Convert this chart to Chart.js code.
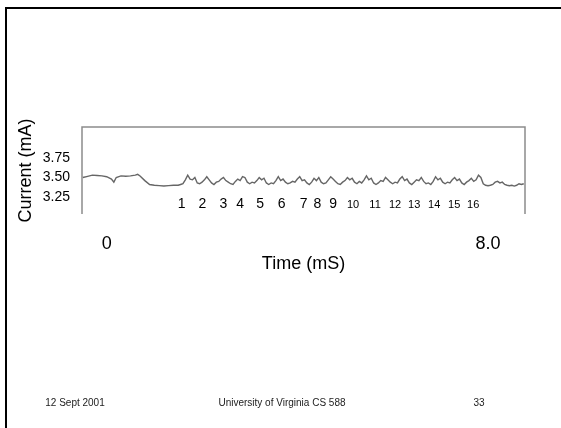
<!DOCTYPE html>
<html>
<head>
<meta charset="utf-8">
<script src="https://cdn.jsdelivr.net/npm/chart.js@4"></script>
<style>
body { margin: 0; background: #fff; }
#slide { position: relative; width: 561px; height: 428px; overflow: hidden; font-family: "Liberation Sans", Arial, sans-serif; }
#frame { position: absolute; left: 5px; top: 7px; width: 600px; height: 450px; border-top: 2.5px solid #000; border-left: 2.5px solid #000; }
#chart { position: absolute; left: 0; top: 0; }
.foot { position: absolute; top: 397px; font-size: 10px; line-height: 12px; color: #222; white-space: nowrap; transform: translateX(-50%); }
</style>
</head>
<body>
<div id="slide">
  <div id="frame"></div>
  <canvas id="chart" width="561" height="428"></canvas>
  <div class="foot" style="left:75px">12 Sept 2001</div>
  <div class="foot" style="left:282px">University of Virginia CS 588</div>
  <div class="foot" style="left:479px">33</div>
</div>
<script>
// scope trace (time in mS, current in mA)
const timeMs = [-0.5, -0.4, -0.3, -0.2, -0.1, 0.0, 0.1, 0.15, 0.2, 0.3,
    0.4, 0.5, 0.6, 0.65, 0.7, 0.8, 0.9, 1.0, 1.1, 1.2,
    1.3, 1.4,
    1.50, 1.55, 1.60, 1.65, 1.70, 1.75, 1.80, 1.85, 1.90, 1.95,
    2.00, 2.05, 2.10, 2.15, 2.20, 2.25, 2.30, 2.35, 2.40, 2.45,
    2.50, 2.55, 2.60, 2.65, 2.70, 2.75, 2.80, 2.85, 2.90, 2.95,
    3.00, 3.05, 3.10, 3.15, 3.20, 3.25, 3.30, 3.35, 3.40, 3.45,
    3.50, 3.55, 3.60, 3.65, 3.70, 3.75, 3.80, 3.85, 3.90, 3.95,
    4.00, 4.05, 4.10, 4.15, 4.20, 4.25, 4.30, 4.35, 4.40, 4.45,
    4.50, 4.55, 4.60, 4.65, 4.70, 4.75, 4.80, 4.85, 4.90, 4.95,
    5.00, 5.05, 5.10, 5.15, 5.20, 5.25, 5.30, 5.35, 5.40, 5.45,
    5.50, 5.55, 5.60, 5.65, 5.70, 5.75, 5.80, 5.85, 5.90, 5.95,
    6.00, 6.05, 6.10, 6.15, 6.20, 6.25, 6.30, 6.35, 6.40, 6.45,
    6.50, 6.55, 6.60, 6.65, 6.70, 6.75, 6.80, 6.85, 6.90, 6.95,
    7.00, 7.05, 7.10, 7.15, 7.20, 7.25, 7.30, 7.35, 7.40, 7.45,
    7.50, 7.55, 7.60, 7.65, 7.70, 7.75, 7.80, 7.85, 7.90, 7.95,
    8.00, 8.05, 8.10, 8.15, 8.20, 8.25, 8.30, 8.35, 8.40, 8.45,
    8.50, 8.55, 8.60, 8.65, 8.70, 8.75];
const currentMa = [3.50, 3.515, 3.53, 3.525, 3.52, 3.51, 3.48, 3.44, 3.50, 3.52,
    3.515, 3.52, 3.53, 3.54, 3.52, 3.46, 3.41, 3.40, 3.395, 3.39,
    3.395, 3.40,
    3.40, 3.41, 3.42, 3.47, 3.53, 3.48, 3.47, 3.50, 3.43, 3.42,
    3.44, 3.47, 3.51, 3.47, 3.43, 3.41, 3.44, 3.45, 3.48, 3.50,
    3.46, 3.44, 3.42, 3.41, 3.45, 3.48, 3.46, 3.51, 3.50, 3.44,
    3.42, 3.44, 3.43, 3.46, 3.50, 3.47, 3.49, 3.43, 3.41, 3.43,
    3.42, 3.46, 3.51, 3.46, 3.48, 3.44, 3.42, 3.43, 3.45, 3.44,
    3.48, 3.51, 3.46, 3.47, 3.43, 3.41, 3.44, 3.49, 3.46, 3.50,
    3.44, 3.42, 3.43, 3.47, 3.51, 3.48, 3.45, 3.42, 3.41, 3.44,
    3.46, 3.50, 3.47, 3.49, 3.44, 3.42, 3.45, 3.43, 3.47, 3.52,
    3.47, 3.49, 3.43, 3.41, 3.43, 3.46, 3.45, 3.50, 3.47, 3.44,
    3.42, 3.44, 3.43, 3.48, 3.51, 3.46, 3.48, 3.43, 3.41, 3.44,
    3.47, 3.46, 3.50, 3.45, 3.42, 3.43, 3.41, 3.45, 3.51, 3.47,
    3.49, 3.44, 3.42, 3.44, 3.43, 3.47, 3.50, 3.46, 3.48, 3.43,
    3.41, 3.44, 3.46, 3.49, 3.45, 3.47, 3.53, 3.50, 3.42, 3.40,
    3.395, 3.40, 3.41, 3.44, 3.45, 3.43, 3.44, 3.41, 3.40, 3.395,
    3.40, 3.39, 3.40, 3.42, 3.41, 3.42];

const yTicks = [3.25, 3.50, 3.75];
const xTicks = [0, 8];

// cycle numbers written under the trace
const cycleNumbers = [1, 2, 3, 4, 5, 6, 7, 8, 9, 10, 11, 12, 13, 14, 15, 16];
const cycleTimes = [1.57, 2.01, 2.45, 2.80, 3.22, 3.67, 4.13, 4.42, 4.75,
    5.17, 5.63, 6.05, 6.45, 6.87, 7.29, 7.69];

const FONT = '"Liberation Sans", Arial, sans-serif';
Chart.defaults.font.family = FONT;
Chart.defaults.color = '#000';

const boxLines = {
    id: 'boxLines',
    beforeDatasetsDraw(chart) {
        const {ctx, chartArea: a} = chart;
        ctx.save();
        ctx.strokeStyle = '#8c8c8c';
        ctx.lineWidth = 1.5;
        ctx.beginPath();
        ctx.moveTo(a.left, a.bottom);
        ctx.lineTo(a.left, a.top);
        ctx.lineTo(a.right, a.top);
        ctx.lineTo(a.right, a.bottom);
        ctx.stroke();
        ctx.restore();
    }
};

const cycleLabels = {
    id: 'cycleLabels',
    afterDatasetsDraw(chart, args, opts) {
        const {ctx, scales} = chart;
        const y = scales.y.getPixelForValue(opts.level);
        ctx.save();
        ctx.fillStyle = '#000';
        ctx.textAlign = 'center';
        ctx.textBaseline = 'alphabetic';
        cycleNumbers.forEach((n, i) => {
            ctx.font = (n < 10 ? 14 : 11) + 'px ' + FONT;
            ctx.fillText(String(n), scales.x.getPixelForValue(cycleTimes[i]), y);
        });
        ctx.restore();
    }
};

new Chart(document.getElementById('chart'), {
    type: 'line',
    data: {
        datasets: [{
            data: timeMs.map((t, i) => ({x: t, y: currentMa[i]})),
            borderColor: '#666',
            borderWidth: 1.4,
            pointRadius: 0,
            tension: 0,
        }]
    },
    options: {
        responsive: false,
        animation: false,
        layout: {padding: {left: 0, top: 127, right: 36, bottom: 153}},
        plugins: {
            legend: {display: false},
            tooltip: {enabled: false},
            cycleLabels: {level: 3.109},
        },
        scales: {
            x: {
                type: 'linear',
                min: -0.518,
                max: 8.776,
                grid: {display: false, drawTicks: false},
                border: {display: false},
                afterBuildTicks: s => { s.ticks = xTicks.map(v => ({value: v})); },
                afterFit: s => { s.height = 61; },
                ticks: {
                    padding: 19,
                    maxRotation: 0,
                    autoSkip: false,
                    font: {size: 18},
                    callback: v => v === 0 ? '0' : v.toFixed(1),
                },
                title: {display: true, text: 'Time (mS)', font: {size: 18}, padding: 0},
            },
            y: {
                min: 3.032,
                max: 4.147,
                grid: {display: false, drawTicks: false},
                border: {display: false},
                afterBuildTicks: s => { s.ticks = yTicks.map(v => ({value: v})); },
                afterFit: s => { s.width = 82; },
                ticks: {
                    padding: 12,
                    font: {size: 14},
                    callback: v => v.toFixed(2),
                },
                title: {display: true, text: 'Current (mA)', font: {size: 18}, padding: {top: 15, bottom: 0}},
            }
        }
    },
    plugins: [boxLines, cycleLabels]
});
</script>
</body>
</html>
